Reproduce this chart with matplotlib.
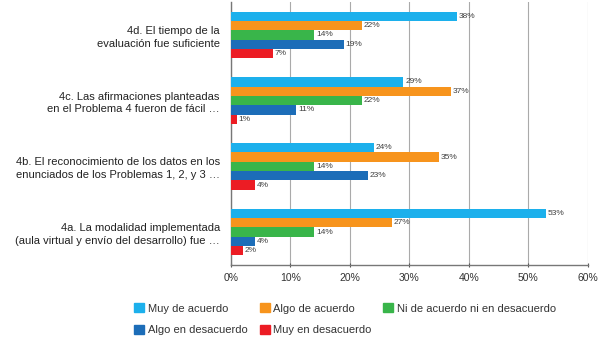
import matplotlib.pyplot as plt
import numpy as np
from matplotlib.patches import Patch

plt.rcParams['font.family'] = ['Liberation Sans', 'DejaVu Sans']

preguntas = [
    '4d. El tiempo de la\nevaluación fue suficiente',
    '4c. Las afirmaciones planteadas\nen el Problema 4 fueron de fácil …',
    '4b. El reconocimiento de los datos en los\nenunciados de los Problemas 1, 2, y 3 …',
    '4a. La modalidad implementada\n(aula virtual y envío del desarrollo) fue …',
]
series = ['Muy de acuerdo', 'Algo de acuerdo', 'Ni de acuerdo ni en desacuerdo',
          'Algo en desacuerdo', 'Muy en desacuerdo']
muy_acuerdo = [38, 29, 24, 53]
algo_acuerdo = [22, 37, 35, 27]
ni_ni = [14, 22, 14, 14]
algo_desacuerdo = [19, 11, 23, 4]
muy_desacuerdo = [7, 1, 4, 2]
valores = [muy_acuerdo, algo_acuerdo, ni_ni, algo_desacuerdo, muy_desacuerdo]
colores = ['#1CB0EC', '#F7941D', '#39B54A', '#1C6DB8', '#EC1C24']

fig = plt.figure(figsize=(6.06, 3.45), dpi=100)
ax = fig.add_axes([0.381, 0.232, 0.589, 0.762])

y = np.arange(len(preguntas))
h = 0.142
for i, (vals, col) in enumerate(zip(valores, colores)):
    pos = y - 2 * h + i * h
    ax.barh(pos, vals, height=h, color=col, zorder=3)
    for p, v in zip(pos, vals):
        ax.text(v + 0.3, p, f'{v}%', va='center', ha='left', fontsize=6,
                color='#404040', zorder=4)

ax.set_ylim(len(preguntas) - 0.5, -0.5)
ax.set_xlim(0, 60)
ax.set_xticks(range(0, 61, 10))
ax.set_xticklabels([f'{t}%' for t in range(0, 61, 10)])
ax.set_yticks(y)
ax.set_yticklabels(preguntas, fontsize=8, color='#222222', linespacing=1.35)
ax.tick_params(axis='y', length=0, pad=8)
ax.tick_params(axis='x', labelsize=7.5, colors='#555555', length=3, direction='inout',
               labelcolor='#333333', pad=4)
ax.grid(axis='x', color='#AAAAAA', linewidth=0.8, zorder=0)
for s in ['top', 'right']:
    ax.spines[s].set_visible(False)
for s in ['left', 'bottom']:
    ax.spines[s].set_color('#777777')
    ax.spines[s].set_linewidth(1.0)

handles = [Patch(color=c, label=l) for c, l in zip(colores, series)]
order = [0, 3, 1, 4, 2]
fig.legend([handles[k] for k in order], [series[k] for k in order],
           ncol=3, loc='upper left', bbox_to_anchor=(0.205, 0.15), frameon=False,
           fontsize=8, handlelength=0.9, handleheight=0.9, handletextpad=0.3,
           columnspacing=1.1, labelspacing=1.0, labelcolor='#333333')

fig.savefig('out.png', dpi=100)
